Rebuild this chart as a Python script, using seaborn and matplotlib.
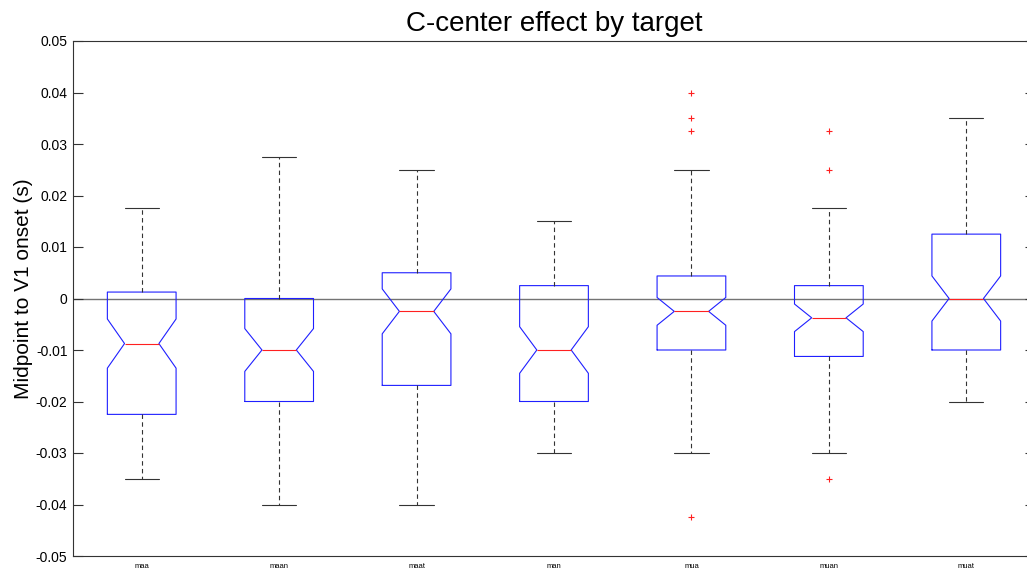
import numpy as np
import pandas as pd
import matplotlib
matplotlib.use("Agg")
import matplotlib.pyplot as plt
import seaborn as sns

targets = ["maa", "maan", "maat", "man", "mua", "muan", "muat"]

# Midpoint-to-V1 offsets in ms and how many tokens had each offset
maa_ms = [-35, -30, -27.5, -25, -22.5, -20, -17.5, -15, -12.5, -10, -8.75,
          -7.5, -5, -2.5, 0, 1.25, 2.5, 5, 7.5, 10, 12.5, 15, 17.5]
maa_count = [1, 2, 3, 4, 6, 3, 3, 3, 3, 2, 2,
             3, 4, 3, 3, 2, 3, 3, 2, 2, 2, 1, 1]

maan_ms = [-40, -35, -30, -27.5, -25, -22.5, -20, -17.5, -15, -12.5, -10,
           -7.5, -5, -2.5, 0, 2.5, 5, 7.5, 10, 15, 17.5, 22.5, 27.5]
maan_count = [1, 2, 3, 2, 3, 2, 3, 3, 3, 3, 4,
              3, 4, 3, 4, 3, 3, 2, 2, 1, 1, 1, 1]

maat_ms = [-40, -35, -32.5, -30, -27.5, -25, -22.5, -20, -17.5, -15, -12.5,
           -10, -7.5, -5, -2.5, 0, 2.5, 5, 7.5, 10, 12.5, 15, 17.5, 20,
           22.5, 25]
maat_count = [1, 2, 2, 2, 2, 2, 2, 2, 1, 3, 3,
              3, 2, 2, 4, 4, 4, 6, 3, 3, 3, 2, 1, 1,
              1, 1]

man_ms = [-30, -27.5, -25, -22.5, -20, -17.5, -15, -12.5, -10, -7.5, -5,
          -2.5, 0, 2.5, 5, 7.5, 10, 12.5, 15]
man_count = [2, 3, 4, 4, 4, 3, 3, 4, 5, 3, 3,
             3, 2, 4, 4, 4, 3, 2, 1]

mua_ms = [-42.5, -30, -27.5, -25, -22.5, -20, -17.5, -15, -12.5, -10, -7.5,
          -5, -2.5, 0, 2.5, 5, 7.5, 10, 12.5, 15, 17.5, 22.5, 25, 32.5,
          35, 40]
mua_count = [1, 1, 1, 2, 2, 2, 3, 3, 2, 4, 4,
             5, 7, 7, 8, 4, 3, 2, 2, 1, 1, 1, 1, 1,
             1, 1]

muan_ms = [-35, -30, -27.5, -25, -22.5, -20, -17.5, -15, -12.5, -11.25, -10,
           -8.75, -7.5, -6.25, -5, -3.75, -2.5, -1.25, 0, 1.25, 2.5, 3.75,
           5, 7.5, 10, 12.5, 15, 17.5, 25, 32.5]
muan_count = [1, 1, 1, 2, 2, 2, 2, 3, 2, 2, 3,
              2, 3, 2, 3, 3, 3, 3, 4, 2, 4, 2,
              3, 2, 2, 2, 1, 1, 1, 1]

muat_ms = [-20, -17.5, -15, -12.5, -10, -7.5, -5, -2.5, 0, 2.5, 5, 7.5,
           10, 12.5, 15, 17.5, 20, 22.5, 25, 27.5, 30, 32.5, 35]
muat_count = [2, 3, 4, 4, 4, 4, 4, 4, 4, 4, 3, 3,
              3, 4, 3, 3, 2, 2, 1, 1, 1, 1, 1]

y_ticks = [-0.05, -0.04, -0.03, -0.02, -0.01, 0, 0.01, 0.02, 0.03, 0.04, 0.05]
y_tick_labels = ["-0.05", "-0.04", "-0.03", "-0.02", "-0.01", "0",
                 "0.01", "0.02", "0.03", "0.04", "0.05"]

samples = {
    "maa": (maa_ms, maa_count),
    "maan": (maan_ms, maan_count),
    "maat": (maat_ms, maat_count),
    "man": (man_ms, man_count),
    "mua": (mua_ms, mua_count),
    "muan": (muan_ms, muan_count),
    "muat": (muat_ms, muat_count),
}

rows = []
for name in targets:
    ms, cnt = samples[name]
    vals = np.repeat(np.asarray(ms, float), cnt) / 1000.0
    rows.append(pd.DataFrame({"target": name, "offset": vals}))
df = pd.concat(rows, ignore_index=True)

sns.set_theme(style="white")
plt.rcParams["font.family"] = ["Liberation Sans", "DejaVu Sans"]
plt.rcParams.update({
    "text.color": "black",
    "axes.labelcolor": "black",
    "xtick.color": "black",
    "ytick.color": "black",
})

fig = plt.figure(figsize=(10.27, 5.71), dpi=100)
W, H = 1027, 571
ax = fig.add_axes([73 / W, 1 - 556 / H, (1035 - 73) / W, (556 - 41) / H])

ax.axhline(0, color="0.45", lw=1.0, zorder=0)

sns.boxplot(
    data=df, x="target", y="offset", order=targets, ax=ax,
    fill=False, width=0.5, notch=True, whis=1.5,
    linewidth=0.8, fliersize=5,
    boxprops=dict(color="#1f1fff"),
    medianprops=dict(color="#ff2020"),
    whiskerprops=dict(color="0.2", linestyle=(0, (4, 3))),
    capprops=dict(color="0.2"),
    flierprops=dict(marker="+", markeredgecolor="#ff2020", markeredgewidth=0.8),
)

ax.set_xlim(-0.5, 6.5)
ax.set_ylim(-0.05, 0.05)
ax.set_yticks(y_ticks)
ax.set_yticklabels(y_tick_labels)
ax.tick_params(axis="y", direction="in", length=7, width=0.8, color="0.2",
               left=True, right=True, labelsize=10, pad=4)
ax.tick_params(axis="x", length=0, labelsize=5.5, pad=5)
for s in ax.spines.values():
    s.set_color("0.2")
    s.set_linewidth(0.8)

ax.set_xlabel("")
ax.set_ylabel("Midpoint to V1 onset (s)", fontsize=15)
ax.yaxis.set_label_coords(-0.042, 0.519)
ax.set_title("C-center effect by target", fontsize=20, pad=7)

fig.savefig("out.png", dpi=100)
